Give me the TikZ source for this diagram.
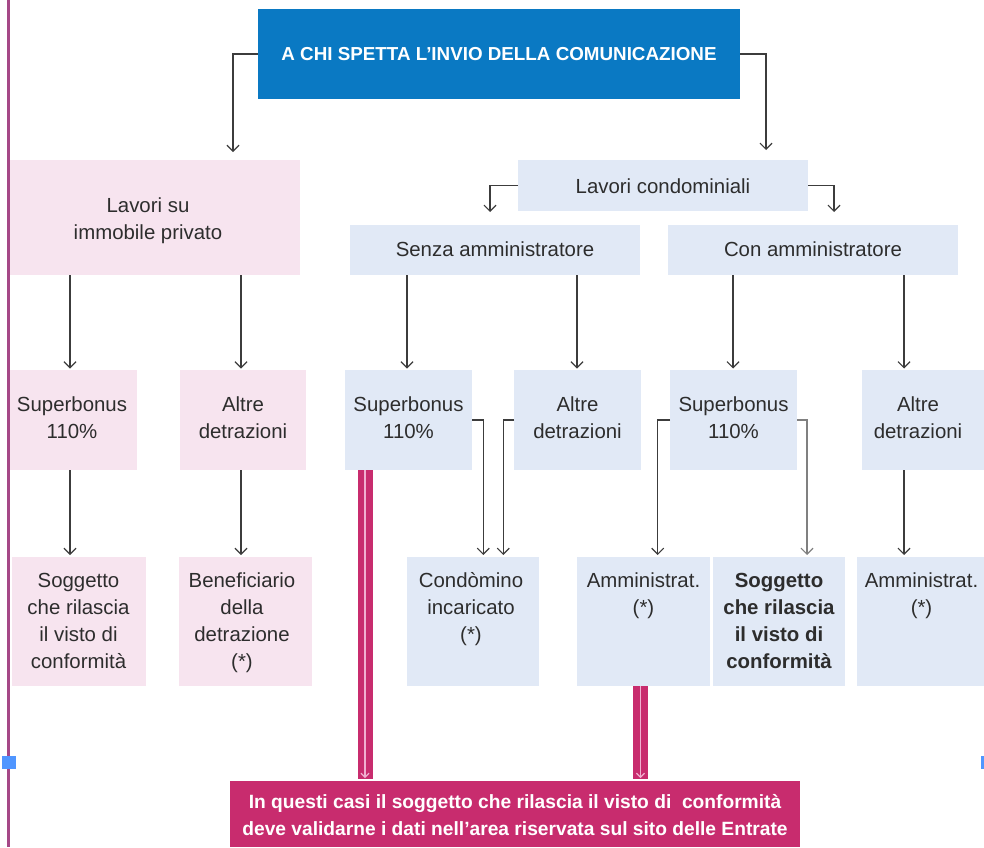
\documentclass[tikz,border=0pt]{standalone}
\usepackage{fontspec}
\setmainfont{Liberation Sans}
\usetikzlibrary{arrows.meta,calc}
\definecolor{titleblue}{RGB}{10,121,195}
\definecolor{pinkbg}{RGB}{247,228,239}
\definecolor{bluebg}{RGB}{225,233,246}
\definecolor{mag}{RGB}{200,44,110}
\definecolor{barc}{RGB}{240,175,208}
\definecolor{txt}{RGB}{45,45,45}
\definecolor{arrc}{RGB}{60,60,60}
\definecolor{edgeline}{RGB}{165,72,135}
\definecolor{handle}{RGB}{80,150,255}
\newcommand{\bodyfont}{\fontsize{20.4}{27}\selectfont}
\newcommand{\st}{\rule{0pt}{19pt}}
\tikzset{
  bx/.style={rectangle, inner sep=0pt, outer sep=0pt, draw=none},
  pinkbox/.style={bx, fill=pinkbg},
  bluebox/.style={bx, fill=bluebg},
  lbl/.style={inner sep=0pt, outer sep=0pt, align=center, anchor=north, text=txt, font=\bodyfont},
  arr/.style={draw=arrc, line width=1.2pt, -{Straight Barb[length=6pt,width=12pt]}},
  arrlight/.style={arr, draw=arrc!65},
  magbar/.style={draw=mag, line width=15pt},
  barline/.style={draw=barc, line width=1.2pt, -{Straight Barb[length=4pt,width=8pt]}},
}
\begin{document}
\begin{tikzpicture}[x=1pt,y=-1pt]
\useasboundingbox (0,0) rectangle (984,847);

% title
\node[bx, fill=titleblue, minimum width=482pt, minimum height=90pt, text=white,
      font=\fontsize{18.8}{24}\selectfont\bfseries] (title) at (499,54)
      {A CHI SPETTA L'INVIO DELLA COMUNICAZIONE};

% level 2
\node[pinkbox, minimum width=290pt, minimum height=115pt] (priv) at (155,217.5) {};
\node[bluebox, minimum width=290pt, minimum height=51pt] (cond) at (663,185.5) {};
\node[bluebox, minimum width=290pt, minimum height=50pt] (senza) at (495,250) {};
\node[bluebox, minimum width=290pt, minimum height=50pt] (con) at (813,250) {};

% level 3
\node[pinkbox, minimum width=127pt, minimum height=100pt] (psb) at (73.5,420) {};
\node[pinkbox, minimum width=126pt, minimum height=100pt] (pad) at (243,420) {};
\node[bluebox, minimum width=127pt, minimum height=100pt] (ssb) at (408.5,420) {};
\node[bluebox, minimum width=127pt, minimum height=100pt] (sad) at (577.5,420) {};
\node[bluebox, minimum width=127pt, minimum height=100pt] (csb) at (733.5,420) {};
\node[bluebox, minimum width=122pt, minimum height=100pt] (cad) at (923,420) {};

% level 4
\node[pinkbox, minimum width=134pt, minimum height=129pt] (psog) at (79,621.5) {};
\node[pinkbox, minimum width=133pt, minimum height=129pt] (pben) at (245.3,621.5) {};
\node[bluebox, minimum width=132pt, minimum height=129pt] (ci) at (472.5,621.5) {};
\node[bluebox, minimum width=133pt, minimum height=129pt] (amm1) at (643.3,621.5) {};
\node[bluebox, minimum width=132pt, minimum height=129pt] (sogg2) at (779,621.5) {};
\node[bluebox, minimum width=127pt, minimum height=129pt] (amm2) at (920.3,621.5) {};

% note
\node[bx, fill=mag, minimum width=570pt, minimum height=66pt] (note) at (515,814) {};

% labels
\node[lbl] (tpriv) at (148,193) {\st Lavori su\\immobile privato};
\node[lbl] (tcond) at (663,174.3) {\st Lavori condominiali};
\node[lbl] (tsenza) at (495,237.5) {\st Senza amministratore};
\node[lbl] (tcon) at (813,237) {\st Con amministratore};

\node[lbl] (tpsb) at (72,392.7) {\st Superbonus\\110\%};
\node[lbl] (tpad) at (243,392.7) {\st Altre\\detrazioni};
\node[lbl] (tssb) at (408.5,392.7) {\st Superbonus\\110\%};
\node[lbl] (tsad) at (577.5,392.7) {\st Altre\\detrazioni};
\node[lbl] (tcsb) at (733.5,392.7) {\st Superbonus\\110\%};
\node[lbl] (tcad) at (918,392.7) {\st Altre\\detrazioni};

\node[lbl] (tpsog) at (78.5,568.5) {\st Soggetto\\che rilascia\\il visto di\\conformità};
\node[lbl] (tpben) at (242,568.5) {\st Beneficiario\\della\\detrazione\\(*)};
\node[lbl] (tci) at (471,568.5) {\st Condòmino\\incaricato\\(*)};
\node[lbl] (tamm1) at (643.5,568.5) {\st Amministrat.\\(*)};
\node[lbl, font=\bodyfont\bfseries] (tsogg2) at (779,568.5) {\st Soggetto\\che rilascia\\il visto di\\conformità};
\node[lbl] (tamm2) at (921.5,568.5) {\st Amministrat.\\(*)};

\node[lbl, text=white, font=\fontsize{19.2}{27}\selectfont\bfseries] (tnote) at (515,789.3)
  {\st In questi casi il soggetto che rilascia il visto di~ conformità\\deve validarne i dati nell'area riservata sul sito delle Entrate};

% column coordinates
\coordinate (x70) at (70,0);
\coordinate (x233) at (233,0);
\coordinate (x241) at (241,0);
\coordinate (x407) at (407,0);
\coordinate (x483) at (483.3,0);
\coordinate (x490) at (490,0);
\coordinate (x503) at (503.3,0);
\coordinate (x577) at (577,0);
\coordinate (x658) at (657.7,0);
\coordinate (x733) at (733,0);
\coordinate (x766) at (766,0);
\coordinate (x807) at (807,0);
\coordinate (x834) at (834,0);
\coordinate (x904) at (904,0);
\coordinate (xb1) at (365,0);
\coordinate (xb2) at (640.5,0);

% connectors
\draw[arr, shorten >=8pt] (title.west) -| (x233 |- priv.north);
\draw[arr, shorten >=10pt] (title.east) -| (x766 |- cond.north);
\draw[arr, shorten >=13pt] (cond.west) -| (x490 |- senza.north);
\draw[arr, shorten >=13pt] (cond.east) -| (x834 |- con.north);

\draw[arr, shorten >=1.5pt] (x70 |- priv.south) -- (x70 |- psb.north);
\draw[arr, shorten >=1.5pt] (x241 |- priv.south) -- (x241 |- pad.north);
\draw[arr, shorten >=1.5pt] (x407 |- senza.south) -- (x407 |- ssb.north);
\draw[arr, shorten >=1.5pt] (x577 |- senza.south) -- (x577 |- sad.north);
\draw[arr, shorten >=1.5pt] (x733 |- con.south) -- (x733 |- csb.north);
\draw[arr, shorten >=1.5pt] (x904 |- con.south) -- (x904 |- cad.north);

\draw[arr, shorten >=2pt] (x70 |- psb.south) -- (x70 |- psog.north);
\draw[arr, shorten >=2pt] (x241 |- pad.south) -- (x241 |- pben.north);
\draw[arr, shorten >=2pt] (ssb.east) -| (x483 |- ci.north);
\draw[arr, shorten >=2pt] (sad.west) -| (x503 |- ci.north);
\draw[arr, shorten >=2pt] (csb.west) -| (x658 |- amm1.north);
\draw[arrlight, shorten >=2pt] (csb.east) -| (x807 |- sogg2.north);
\draw[arr, shorten >=2pt] (x904 |- cad.south) -- (x904 |- amm2.north);

% magenta bars
\draw[magbar, shorten >=2.5pt] (xb1 |- ssb.south) -- (xb1 |- note.north);
\draw[barline, shorten >=3pt] (xb1 |- ssb.south) -- (xb1 |- note.north);
\draw[magbar, shorten >=2.5pt] (xb2 |- amm1.south) -- (xb2 |- note.north);
\draw[barline, shorten >=3pt] (xb2 |- amm1.south) -- (xb2 |- note.north);

% page edge line and handles
\draw[edgeline, line width=3pt] (8,0) -- (8,847);
\fill[handle] (2,756) rectangle (16,769);
\fill[handle] (981,756) rectangle (984,769);
\end{tikzpicture}
\end{document}
